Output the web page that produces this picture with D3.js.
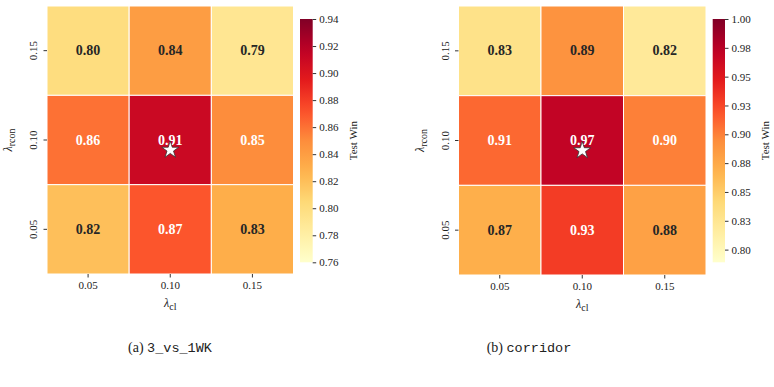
<!DOCTYPE html>
<html>
<head>
<meta charset="utf-8">
<script src="https://cdn.jsdelivr.net/npm/d3@7"></script>
<style>
  body { margin: 0; background: #fff; }
  svg { display: block; }
  text { font-family: "Liberation Serif", "Times New Roman", serif; fill: #222; }
</style>
</head>
<body>
<div id="graph"></div>
<script>
// data
const clCats = ["0.05", "0.10", "0.15"];            // x: lambda_cl
const rconCats = ["0.15", "0.10", "0.05"];          // y: lambda_rcon, top to bottom
const winA = [[0.80, 0.84, 0.79], [0.86, 0.91, 0.85], [0.82, 0.87, 0.83]];
const winB = [[0.83, 0.89, 0.82], [0.91, 0.97, 0.90], [0.87, 0.93, 0.88]];
const rangeA = [0.76, 0.94];
const rangeB = [0.789, 1.0];
const cbTicksA = [0.76, 0.78, 0.80, 0.82, 0.84, 0.86, 0.88, 0.90, 0.92, 0.94];
const cbTicksB = [0.800, 0.825, 0.850, 0.875, 0.900, 0.925, 0.950, 0.975, 1.000];
const cbLabelsB = ["0.80", "0.83", "0.85", "0.88", "0.90", "0.93", "0.95", "0.98", "1.00"];
const bestA = ["0.10", "0.10"];
const bestB = ["0.10", "0.10"];

const W = 774, H = 387;
const SERIF = "Liberation Serif, Times New Roman, serif";

const svg = d3.select("#graph").append("svg")
    .attr("width", W).attr("height", H);

const palette = d3.piecewise(d3.interpolateRgb, d3.schemeYlOrRd[9]);

function lum(c) {
    const rgb = d3.rgb(c);
    const f = v => { v /= 255; return v <= 0.03928 ? v / 12.92 : Math.pow((v + 0.055) / 1.055, 2.4); };
    return 0.2126 * f(rgb.r) + 0.7152 * f(rgb.g) + 0.0722 * f(rgb.b);
}

function lambdaLabel(sel, sub) {
    sel.append("tspan").style("font-style", "italic").text("λ");
    sel.append("tspan").attr("baseline-shift", "-25%").style("font-size", "10px").text(sub);
}

function drawPanel(id, values, domain, ticks, tickLabels, best, box, cbBox, caption, capX) {
    const g = svg.append("g").attr("id", id);

    const x = d3.scaleBand().domain(clCats).range([box.x0, box.x1]);
    const y = d3.scaleBand().domain(rconCats).range([box.y0, box.y1]);
    const c = v => palette((v - domain[0]) / (domain[1] - domain[0]));

    const cells = [];
    rconCats.forEach((r, i) => clCats.forEach((cl, j) => cells.push({ r, cl, v: values[i][j] })));

    g.selectAll("rect.cell").data(cells).join("rect")
        .attr("class", "cell")
        .attr("x", d => x(d.cl)).attr("y", d => y(d.r))
        .attr("width", x.bandwidth()).attr("height", y.bandwidth())
        .attr("fill", d => c(d.v))
        .attr("stroke", "#fff").attr("stroke-width", 1);

    g.selectAll("text.annot").data(cells).join("text")
        .attr("class", "annot")
        .attr("x", d => x(d.cl) + x.bandwidth() / 2)
        .attr("y", d => y(d.r) + y.bandwidth() / 2)
        .attr("text-anchor", "middle").attr("dominant-baseline", "central")
        .style("font-size", "14px").style("font-weight", "bold")
        .style("fill", d => lum(c(d.v)) > 0.408 ? "#262626" : "#fff")
        .text(d => d.v.toFixed(2));

    // best marker
    g.append("path")
        .attr("d", d3.symbol(d3.symbolStar, 90)())
        .attr("transform", `translate(${x(best[0]) + x.bandwidth() / 2},${y(best[1]) + y.bandwidth() / 2 + 10})`)
        .attr("fill", "#fff").attr("stroke", "#333").attr("stroke-width", 0.8);

    // axes
    const xAxis = g.append("g").attr("transform", `translate(0,${box.y1})`)
        .call(d3.axisBottom(x).tickSize(3.5).tickPadding(4))
        .attr("font-family", SERIF);
    xAxis.select(".domain").remove();
    xAxis.selectAll("text").style("font-size", "11px");
    xAxis.selectAll("line").attr("stroke", "#333");

    const yAxis = g.append("g").attr("transform", `translate(${box.x0},0)`)
        .call(d3.axisLeft(y).tickSize(3.5).tickPadding(4))
        .attr("font-family", SERIF);
    yAxis.select(".domain").remove();
    yAxis.selectAll("line").attr("stroke", "#333");
    yAxis.selectAll("text")
        .style("font-size", "11px")
        .attr("text-anchor", "middle").attr("dy", null)
        .attr("transform", `translate(${-14},0) rotate(-90)`)
        .attr("x", 0).attr("y", 0).attr("dominant-baseline", "central");

    g.append("text")
        .attr("x", (box.x0 + box.x1) / 2).attr("y", box.y1 + 33)
        .attr("text-anchor", "middle").style("font-size", "12px")
        .call(lambdaLabel, "cl");

    g.append("text")
        .attr("transform", `translate(${box.x0 - 35},${(box.y0 + box.y1) / 2}) rotate(-90)`)
        .attr("text-anchor", "middle").style("font-size", "12px")
        .call(lambdaLabel, "rcon");

    // colorbar
    const cy = d3.scaleLinear().domain(domain).range([cbBox.y1, cbBox.y0]);
    const gradId = id + "-grad";
    const grad = svg.append("defs").append("linearGradient").attr("id", gradId)
        .attr("x1", 0).attr("y1", 1).attr("x2", 0).attr("y2", 0);
    d3.range(0, 1.0001, 0.05).forEach(t => {
        grad.append("stop").attr("offset", t).attr("stop-color", palette(t));
    });
    g.append("rect")
        .attr("x", cbBox.x0).attr("y", cbBox.y0)
        .attr("width", cbBox.x1 - cbBox.x0).attr("height", cbBox.y1 - cbBox.y0)
        .attr("fill", `url(#${gradId})`);

    const cbAxis = g.append("g").attr("transform", `translate(${cbBox.x1},0)`)
        .call(d3.axisRight(cy).tickValues(ticks).tickSize(3.5).tickPadding(3)
            .tickFormat((d, i) => tickLabels ? tickLabels[i] : d.toFixed(2)))
        .attr("font-family", SERIF);
    cbAxis.select(".domain").remove();
    cbAxis.selectAll("line").attr("stroke", "#333");
    cbAxis.selectAll("text").style("font-size", "11px");

    g.append("text")
        .attr("transform", `translate(${cbBox.x1 + 40},${(cbBox.y0 + cbBox.y1) / 2}) rotate(-90)`)
        .attr("text-anchor", "middle").attr("dominant-baseline", "central")
        .style("font-size", "11px")
        .text("Test Win");

    // caption
    const cap = g.append("text").attr("x", capX).attr("y", 352)
        .attr("text-anchor", "middle").style("font-size", "14px");
    cap.append("tspan").text("(" + caption[0] + ") ");
    cap.append("tspan").style("font-family", "Liberation Mono, DejaVu Sans Mono, monospace")
        .style("font-size", "13.5px").text(caption[1]);
}

drawPanel("a", winA, rangeA, cbTicksA, null, bestA,
    { x0: 47, x1: 293.5, y0: 6, y1: 274 },
    { x0: 300, x1: 312.7, y0: 19, y1: 262.3 },
    ["a", "3_vs_1WK"], 170);

drawPanel("b", winB, rangeB, cbTicksB, cbLabelsB, bestB,
    { x0: 458.5, x1: 706, y0: 6, y1: 275 },
    { x0: 712.7, x1: 725, y0: 19, y1: 262.3 },
    ["b", "corridor"], 529);
</script>
</body>
</html>
